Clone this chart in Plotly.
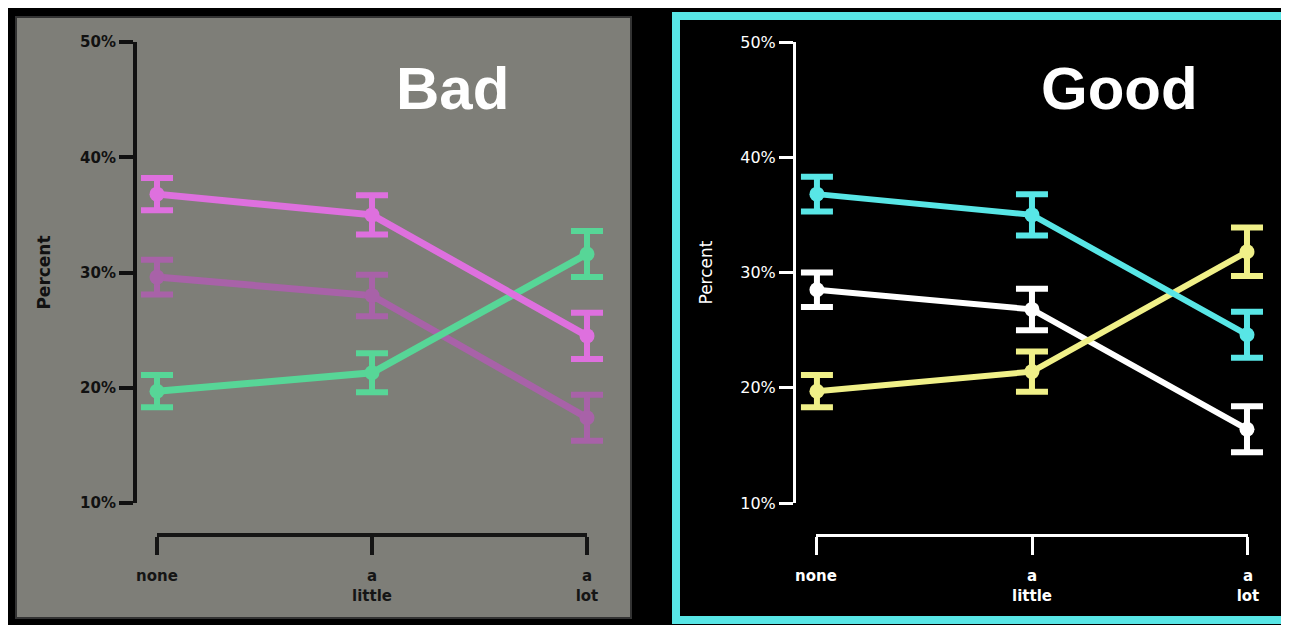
import plotly.graph_objects as go

# ---------------- data ----------------
categories = ["none", "a little", "a lot"]
tick_labels = ["none", "a<br>little", "a<br>lot"]
x_pos = [0, 1, 2]
y_ticks = [10, 20, 30, 40, 50]
y_tick_labels = ["10%", "20%", "30%", "40%", "50%"]

# Left panel ("Bad")
bad_pink = [36.8, 35.0, 24.5]
bad_pink_err = [1.4, 1.7, 2.0]
bad_purple = [29.6, 28.0, 17.4]
bad_purple_err = [1.5, 1.8, 2.0]
bad_green = [19.7, 21.3, 31.6]
bad_green_err = [1.4, 1.7, 2.0]

# Right panel ("Good")
good_cyan = [36.8, 35.0, 24.6]
good_cyan_err = [1.5, 1.8, 2.0]
good_white = [28.5, 26.8, 16.4]
good_white_err = [1.5, 1.8, 2.0]
good_yellow = [19.7, 21.4, 31.8]
good_yellow_err = [1.4, 1.75, 2.1]

# ---------------- layout helpers ----------------
# the page body has an 8px margin, so the figure starts at page (8, 8)
OFF = 8
W, H = 1289 - OFF, 633 - 2 * OFF
def fx(px):
    return (px - OFF) / W
def fy(py):
    return 1 - (py - OFF) / H

GRAY = "#7E7E78"
CYAN = "#58E6E6"
TICK_FONT = "DejaVu Sans"
TITLE_FONT = "Liberation Sans, Arial"

fig = go.Figure()

def add_series(y, err, color, xa, ya, lw):
    fig.add_trace(go.Scatter(
        x=x_pos, y=y, xaxis=xa, yaxis=ya,
        mode="lines+markers",
        line=dict(color=color, width=lw),
        marker=dict(color=color, size=15),
        error_y=dict(type="data", array=err, visible=True,
                     color=color, thickness=6, width=16),
        showlegend=False, hoverinfo="skip",
    ))

# left: order purple, green, pink (pink on top)
add_series(bad_purple, bad_purple_err, "#A862A8", "x", "y", 7)
add_series(bad_green, bad_green_err, "#57D697", "x", "y", 7)
add_series(bad_pink, bad_pink_err, "#DE70DE", "x", "y", 7)
# right: order white, yellow, cyan
add_series(good_white, good_white_err, "#FFFFFF", "x2", "y2", 6)
add_series(good_yellow, good_yellow_err, "#F0F088", "x2", "y2", 6)
add_series(good_cyan, good_cyan_err, CYAN, "x2", "y2", 6)

# dummy traces so the bracket x-axes get drawn
fig.add_trace(go.Scatter(x=[None], y=[None], xaxis="x3", yaxis="y",
                         showlegend=False, hoverinfo="skip"))
fig.add_trace(go.Scatter(x=[None], y=[None], xaxis="x4", yaxis="y2",
                         showlegend=False, hoverinfo="skip"))

y_dom = [fy(503), fy(42)]

def y_axis(color, lw, bold, size, standoff):
    return dict(
        domain=y_dom, range=[10, 50],
        showline=True, linecolor=color, linewidth=lw,
        ticks="outside", ticklen=14, tickwidth=lw, tickcolor=color,
        tickvals=y_ticks, ticktext=y_tick_labels,
        tickfont=dict(family=TICK_FONT, size=size, color=color,
                      weight="bold" if bold else "normal"),
        showgrid=False, zeroline=False,
        title=dict(text="Percent", standoff=standoff,
                   font=dict(family=TICK_FONT, size=17, color=color,
                             weight="bold" if bold else "normal")),
    )

def bracket_axis(x0, x1, color, lw):
    return dict(
        domain=[fx(x0), fx(x1)], range=[-0.0001, 2.0001],
        anchor="free", position=fy(535), side="bottom",
        showline=True, linecolor=color, linewidth=lw,
        ticks="outside", ticklen=18, tickwidth=lw, tickcolor=color,
        tickvals=x_pos, ticktext=tick_labels, ticklabelstandoff=8,
        tickfont=dict(family=TICK_FONT, size=15, color=color, weight="bold"),
        showgrid=False, zeroline=False,
    )

fig.update_layout(
    width=W, height=H,
    margin=dict(l=0, r=0, t=0, b=0),
    template="none",
    paper_bgcolor="#000000",
    plot_bgcolor="rgba(0,0,0,0)",
    showlegend=False,
    xaxis=dict(domain=[fx(137), fx(607)], range=[-0.093, 2.093],
               visible=False, anchor="y"),
    yaxis=dict(anchor="x", **y_axis("#111111", 4, True, 15, 26)),
    xaxis2=dict(domain=[fx(796), fx(1270)], range=[-0.0974, 2.107],
                visible=False, anchor="y2"),
    yaxis2=dict(anchor="x2", **y_axis("#FFFFFF", 3, False, 16, 24)),
    xaxis3=bracket_axis(157, 587, "#151515", 4),
    xaxis4=bracket_axis(816, 1248, "#FFFFFF", 3),
    shapes=[
        dict(type="rect", xref="paper", yref="paper",
             x0=fx(16), x1=fx(631), y0=fy(618), y1=fy(17),
             fillcolor=GRAY, line=dict(color="#333333", width=2),
             layer="below"),
        dict(type="rect", xref="paper", yref="paper",
             x0=fx(676), x1=fx(1290), y0=fy(620), y1=fy(16),
             fillcolor="rgba(0,0,0,0)", line=dict(color=CYAN, width=8),
             layer="below"),
    ],
    annotations=[
        dict(text="<b>Bad</b>", x=fx(452), y=fy(88), xref="paper", yref="paper",
             showarrow=False, xanchor="center", yanchor="middle",
             font=dict(family=TITLE_FONT, size=60, color="#FFFFFF")),
        dict(text="<b>Good</b>", x=fx(1119), y=fy(88), xref="paper", yref="paper",
             showarrow=False, xanchor="center", yanchor="middle",
             font=dict(family=TITLE_FONT, size=60, color="#FFFFFF")),
    ],
)

fig.write_html("out.html")
